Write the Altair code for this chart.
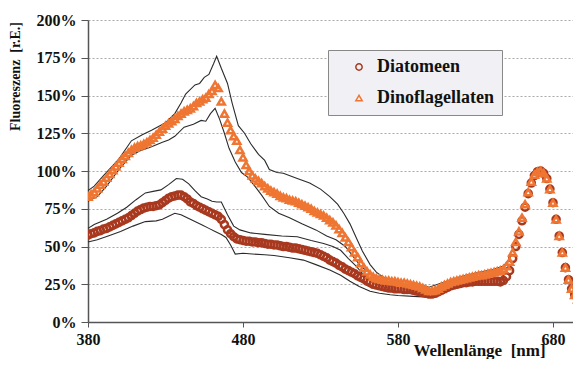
import altair as alt
import pandas as pd

# ---------------- data ----------------
wavelengths = list(range(380, 700, 2))

dino_mean = [
    83, 84.5, 86, 88.5, 91, 93, 95.5, 98, 100.5, 103,            # 380-398
    105.5, 108, 110, 112, 114, 115.5, 116.5, 117, 118, 119,       # 400-418
    120.5, 122, 124, 126, 128, 130, 131.5, 133, 134.5, 136.5,     # 420-438
    138, 139.5, 140.5, 141.5, 143, 145, 146, 147.5, 148.5, 151,   # 440-458
    153, 157, 155, 146, 138, 132, 127, 123, 120, 114,             # 460-478
    109, 104, 100, 97, 95, 93.5, 92, 90, 88.5, 87,                # 480-498
    86, 85, 83.5, 82.5, 82, 81, 80.5, 80, 79, 78,                 # 500-518
    77, 76, 75, 73.5, 72.5, 71.5, 70.5, 69, 67.5, 66,             # 520-538
    64, 61.5, 59, 56, 53, 49.5, 46, 43, 39, 36,                   # 540-558
    33.5, 31.5, 30, 29, 28.5, 28, 27.5, 27.5, 27, 27,             # 560-578
    26.5, 26, 26, 25.5, 25, 24.5, 24, 23.5, 22.5, 21.5,           # 580-598
    20.5, 20.5, 21, 22, 23.5, 24.5, 25.5, 26.5, 27, 27.5,         # 600-618
    28, 28.5, 29, 29.5, 30, 30.5, 31, 31, 31.5, 32,               # 620-638
    32.5, 33, 33.5, 34, 35, 37, 40, 46, 53, 60,                   # 640-658
    69, 78, 86, 93, 97.5, 99.5, 100, 98.5, 95, 88,                # 660-678
    79, 68, 57, 46, 36, 28, 22, 18, 15, 12,                       # 680-698
]

diat_mean = [
    57.5, 58.5, 59, 60, 60.5, 61.5, 62, 63, 64, 65,               # 380-398
    66, 67, 68, 69, 70.5, 72, 73.5, 74.5, 75.5, 76,               # 400-418
    76.5, 76.5, 77, 77.5, 79, 80.5, 82, 83, 83.5, 84,             # 420-438
    84, 83, 81.5, 79.5, 78.5, 77, 76, 75, 74, 73,                 # 440-458
    72, 71, 70, 68, 64.5, 61, 58.5, 56.5, 55, 54.5,               # 460-478
    54, 53.5, 53.5, 53, 53, 52.5, 52.5, 52, 51.5, 51.5,           # 480-498
    51, 51, 50.5, 50, 50, 49.5, 49, 49, 48.5, 48,                 # 500-518
    47.5, 47, 46.5, 46, 45.5, 44.5, 43.5, 42.5, 41, 40,           # 520-538
    39, 37.5, 36.5, 35, 34, 33, 32, 30.5, 29.5, 28.5,             # 540-558
    27, 26, 25, 24.5, 24, 23.5, 23, 22.5, 22.5, 22,               # 560-578
    22, 22, 21.5, 21.5, 21.5, 21, 20.5, 20, 19.5, 19,             # 580-598
    18.5, 18.5, 19, 20, 21, 22, 23, 24, 24.5, 25,                 # 600-618
    25.5, 26, 26, 26.5, 26.5, 27, 27, 27, 27, 27,                 # 620-638
    27, 27, 27, 26.5, 27.5, 30, 34, 42, 50, 58,                   # 640-658
    67, 76, 85, 92, 97, 99.5, 100, 98.5, 95, 88,                  # 660-678
    79, 68, 57, 46, 36, 28, 22, 18, 15, 12,                       # 680-698
]

# envelope lines (mean +/- SD), read at irregular wavelengths
dino_upper_wl = [380, 384, 390, 400, 408, 415, 421, 430, 436, 440, 443, 449, 452, 455, 458, 461, 463, 466, 470, 473, 477, 481, 485, 490, 494, 497, 502, 506, 515, 523, 530, 536, 541, 545, 549, 553, 557, 562, 566, 570, 575, 580, 585, 590, 600, 610, 620, 630, 640, 648, 652]
dino_upper_v = [87, 90, 97, 108, 120, 124, 127, 132, 138, 145, 151, 157, 158, 162, 164, 171, 176, 168, 158, 145, 130, 125, 118, 111, 107, 101, 99, 98.5, 95, 92, 88, 83, 78, 72, 65, 56, 47, 38, 33, 30, 28, 27, 27, 26, 23, 26.5, 30, 32.5, 34.5, 37, 42]

dino_lower_wl = [380, 386, 392, 400, 408, 415, 421, 428, 432, 436, 442, 448, 453, 456, 459, 462, 465, 468, 471, 475, 479, 483, 488, 492, 497, 503, 510, 518, 527, 534, 540, 546, 551, 556, 562, 566, 572, 578]
dino_lower_v = [80, 83, 90, 101, 110.5, 114, 116, 119, 120.5, 123, 129, 131, 133.5, 133, 138, 141.5, 134, 125, 115, 106, 99, 96, 89.5, 84, 76.5, 72, 69, 65, 61, 57, 54.5, 50, 43.5, 37, 32, 28, 25, 23]

diat_upper_wl = [380, 384, 392, 399, 405, 411, 417, 422, 427, 432, 437, 441, 445, 449, 453, 457, 460, 463, 466, 470, 474, 478, 485, 494, 505, 515, 524, 532, 538, 543, 548, 553, 558, 562, 568, 575, 580]
diat_upper_v = [62, 64.5, 68, 72, 76, 81, 85.5, 86.5, 87.5, 91, 95, 94.5, 91.5, 87, 83, 81.5, 80, 79.5, 79.5, 71, 63.5, 61, 59, 58, 57, 56.5, 54, 52, 50, 47.5, 42, 37, 31, 28, 25.5, 24, 23.5]

diat_lower_wl = [380, 386, 393, 401, 409, 417, 424, 428, 432, 436, 440, 445, 449, 454, 458, 462, 466, 469, 472, 475, 480, 486, 494, 500, 510, 519, 527, 536, 543, 549, 555, 562, 568, 575, 580, 590, 600, 610, 620, 630, 640, 646, 650]
diat_lower_v = [53, 54.5, 57, 60, 63.5, 66.5, 67, 68, 70, 72, 71, 68.5, 66.5, 64, 62, 60, 58, 56, 51, 45, 45.5, 45, 44.5, 44, 42.5, 41, 38, 34.5, 31, 27, 23.5, 20.3, 19, 18, 17.5, 17, 16.5, 20, 23.5, 24.5, 24.5, 24.5, 28]

series_names = ["Diatomeen", "Dinoflagellaten"]
series_colors = ["#a8391f", "#ef7632"]
series_shapes = ["circle", "triangle-up"]
y_ticks = [0, 25, 50, 75, 100, 125, 150, 175, 200]
x_ticks = [380, 480, 580, 680]

# ---------------- tables ----------------
pts = pd.concat([
    pd.DataFrame({"wl": wavelengths, "v": diat_mean, "Serie": series_names[0]}),
    pd.DataFrame({"wl": wavelengths, "v": dino_mean, "Serie": series_names[1]}),
], ignore_index=True)

env = pd.concat([
    pd.DataFrame({"wl": dino_upper_wl, "v": dino_upper_v, "band": "dino_up"}),
    pd.DataFrame({"wl": dino_lower_wl, "v": dino_lower_v, "band": "dino_lo"}),
    pd.DataFrame({"wl": diat_upper_wl, "v": diat_upper_v, "band": "diat_up"}),
    pd.DataFrame({"wl": diat_lower_wl, "v": diat_lower_v, "band": "diat_lo"}),
], ignore_index=True)

FONT = "Liberation Serif"

x_scale = alt.Scale(domain=[380, 692.9], nice=False, zero=False)
y_scale = alt.Scale(domain=[0, 200], nice=False)

x_axis = alt.Axis(
    values=x_ticks, title="Wellenlänge\u00a0\u00a0[nm]", grid=False,
    labelFont=FONT, labelFontSize=16, labelFontWeight="bold", labelColor="#111",
    labelPadding=4, tickSize=5, tickColor="#555", domainColor="#555", domainWidth=1.5,
    labelFlush=False, labelOverlap=False,
    titleFont=FONT, titleFontSize=17, titleFontWeight="bold", titleColor="#111",
    titleX=391, titleY=33, titleAnchor="middle", titleAlign="center", titleBaseline="alphabetic",
)
y_axis = alt.Axis(
    values=y_ticks, labelExpr="datum.value + '%'", title="Fluoreszenz\u00a0\u00a0[r.E.]",
    grid=True, gridColor="#aaaaaa", gridDash=[2, 2], gridWidth=1,
    labelFont=FONT, labelFontSize=16, labelFontWeight="bold", labelColor="#111",
    labelPadding=5, tickSize=7, tickColor="#555", domainColor="#555", domainWidth=1.5,
    labelOverlap=False, labelFlush=False,
    titleFont=FONT, titleFontSize=14, titleFontWeight="bold", titleColor="#111",
    titleX=-73, titleY=56, titleAngle=270, titleAlign="center", titleBaseline="middle",
)

lines = alt.Chart(env).mark_line(strokeWidth=1.1, color="#2b2b2b").encode(
    x=alt.X("wl:Q", scale=x_scale, axis=x_axis),
    y=alt.Y("v:Q", scale=y_scale, axis=y_axis),
    detail="band:N",
)

points = alt.Chart(pts).mark_point(filled=False, size=50, strokeWidth=2.5, opacity=1, clip=True).encode(
    x=alt.X("wl:Q", scale=x_scale, axis=x_axis),
    y=alt.Y("v:Q", scale=y_scale, axis=y_axis),
    color=alt.Color("Serie:N", scale=alt.Scale(domain=series_names, range=series_colors),
                    legend=alt.Legend(title=None, orient="none", legendX=240, legendY=30)),
    shape=alt.Shape("Serie:N", scale=alt.Scale(domain=series_names, range=series_shapes),
                    legend=alt.Legend(title=None, orient="none", legendX=240, legendY=30)),
)

chart = alt.layer(lines, points).properties(
    width=485, height=302,
    autosize=alt.AutoSizeParams(type="none"),
    padding={"left": 80, "top": 12, "right": 0, "bottom": 37},
    background="white",
).configure_view(stroke=None).configure_legend(
    labelFont=FONT, labelFontSize=18, labelFontWeight="bold", labelColor="#111",
    fillColor="#f1f1f5", strokeColor="#888888", padding=8, rowPadding=13,
    symbolSize=40, symbolStrokeWidth=1.5, symbolOffset=14, labelOffset=9,
)

chart.save("out.html", embed_options={"renderer": "svg", "actions": False})
